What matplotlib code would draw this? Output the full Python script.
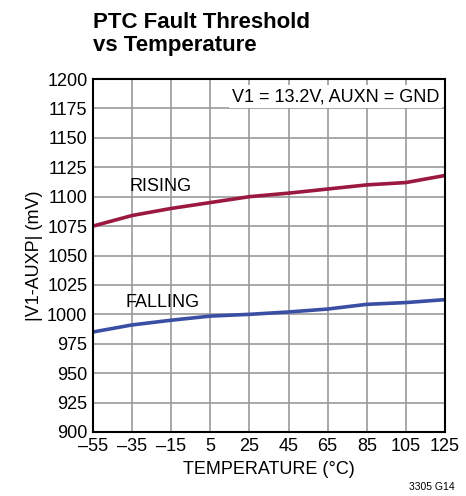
"""PTC fault threshold vs temperature"""
import matplotlib
matplotlib.use("Agg")
import matplotlib.pyplot as plt
import numpy as np

plt.rcParams['font.family'] = ['Liberation Sans', 'DejaVu Sans']

temp = [-55, -35, -15, 5, 25, 45, 65, 85, 105, 125]
rising = [1075, 1084, 1090, 1095, 1100, 1103, 1106.5, 1110, 1112, 1118]
falling = [985, 991, 995, 998.5, 1000, 1002, 1004.5, 1008.5, 1010, 1012.5]
xticks = [-55, -35, -15, 5, 25, 45, 65, 85, 105, 125]
yticks = list(range(900, 1201, 25))

fig = plt.figure(figsize=(4.66, 4.96), dpi=100)
ax = fig.add_axes([93/466, 1-432/496, 352/466, 353/496])

ax.plot(temp, rising, color="#9B1940", lw=2.6)
ax.plot(temp, falling, color="#3A4FA3", lw=2.6)

ax.set_xlim(-55, 125)
ax.set_ylim(900, 1200)
ax.set_xticks(xticks)
ax.set_xticklabels([str(t).replace('-', '\u2013') for t in xticks])
ax.set_yticks(yticks)
ax.grid(True, color="#999999", lw=1.2)
ax.tick_params(length=0, labelsize=13, pad=4)
for s in ax.spines.values():
    s.set_linewidth(1.5)
    s.set_color("black")

ax.set_xlabel("TEMPERATURE (\u00b0C)", fontsize=13, labelpad=5)
ax.set_ylabel("|V1-AUXP| (mV)", fontsize=13, labelpad=3)

ax.text(-36.5, 1105, "RISING", fontsize=13, va="baseline")
ax.text(-38.5, 1006, "FALLING", fontsize=13, va="baseline")
ax.text(122, 1185, "V1 = 13.2V, AUXN = GND", fontsize=13, ha="right", va="center",
        bbox=dict(facecolor="white", edgecolor="none", pad=2))

fig.text(93/466, 1-34/496, "PTC Fault Threshold\nvs Temperature", fontsize=16,
         fontweight="bold", va="center", ha="left", linespacing=1.1)
fig.text(455/466, 1-487/496, "3305 G14", fontsize=7.5, ha="right", va="center")

fig.savefig("out.png", dpi=100)
